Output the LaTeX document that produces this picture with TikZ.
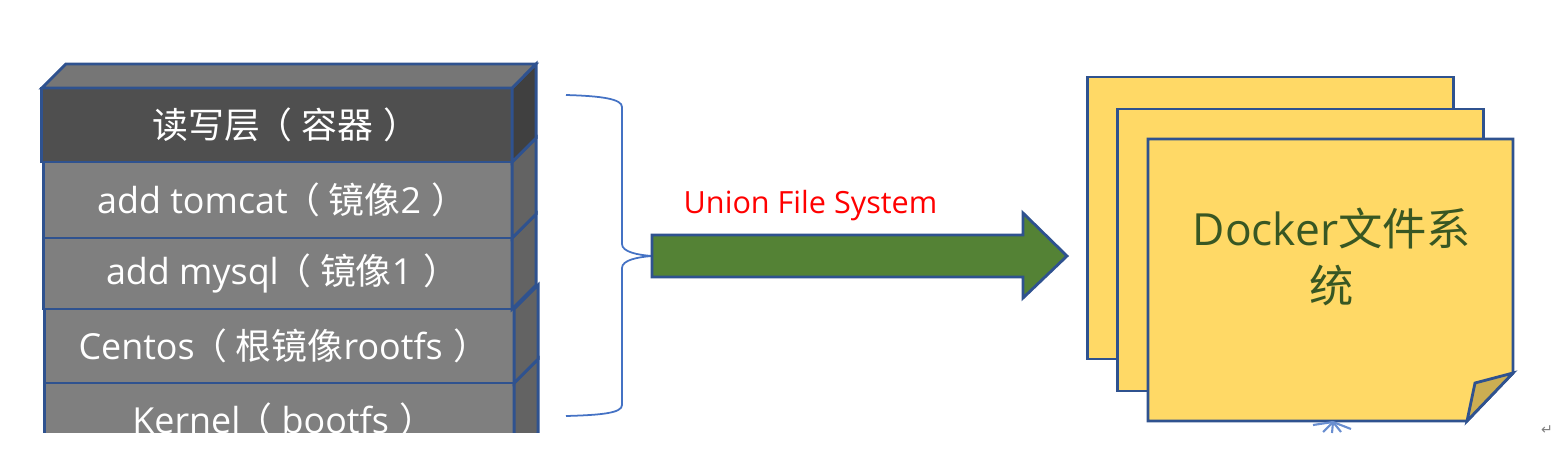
\documentclass[tikz,border=0pt]{standalone}
\usepackage{fontspec}
\setmainfont{Open Sans}
\newfontfamily\zhfont{Noto Sans CJK SC}
\newfontfamily\symbfont{DejaVu Sans}
\newcommand{\zh}[1]{{\zhfont #1}}
\newcommand{\lp}{\kern-0.1em\zh{（}\kern0.25em}
\newcommand{\rp}{\kern0.3em\zh{）}\kern-0.25em}
\definecolor{stackblue}{HTML}{2F528F}
\definecolor{braceblue}{HTML}{4472C4}
\definecolor{layergray}{HTML}{7F7F7F}
\definecolor{sidegray}{HTML}{636363}
\definecolor{topfront}{HTML}{4F4F4F}
\definecolor{topside}{HTML}{404040}
\definecolor{toptop}{HTML}{767676}
\definecolor{arrowgreen}{HTML}{548235}
\definecolor{notegold}{HTML}{FFD966}
\definecolor{foldgold}{HTML}{CCAE52}
\definecolor{dockergreen}{HTML}{385723}

\begin{document}
\begin{tikzpicture}[x=0.01cm,y=-0.01cm,
    layer/.style={draw=stackblue,line width=0.8pt,fill=layergray,text=white,
                  inner sep=0pt,outer sep=0pt,font=\fontsize{10.2}{12}\selectfont},
    sideface/.style={draw=stackblue,line width=0.8pt,fill=sidegray},
    note/.style={draw=stackblue,line width=0.8pt,fill=notegold,inner sep=0pt,outer sep=0pt},
    brace/.style={draw=braceblue,line width=0.5pt}]
    \useasboundingbox (0,0) rectangle (1560,454);
    % layer stack, bottom first
    \begin{scope}
    \clip (0,0) rectangle (560,432);
    \node[layer,minimum width=4.69cm,minimum height=0.74cm] (layer5) at (279.5,420) {Kernel\lp bootfs\rp};
    \filldraw[sideface] (layer5.north east) -- ++(24,-24) -- ++(0,74) -- (layer5.south east) -- cycle;
    \node[layer,minimum width=4.69cm,minimum height=0.74cm] (layer4) at (279.5,346) {Centos\lp\zh{根镜像}rootfs\rp};
    \filldraw[sideface] (layer4.north east) -- ++(24,-24) -- ++(0,74) -- (layer4.south east) -- cycle;
    \node[layer,minimum width=4.68cm,minimum height=0.71cm] (layer3) at (278,273.5) {add mysql\lp\zh{镜像}1\rp};
    \filldraw[sideface] (layer3.north east) -- ++(24,-24) -- ++(0,71) -- (layer3.south east) -- cycle;
    \node[layer,minimum width=4.68cm,minimum height=0.76cm] (layer2) at (278,200) {add tomcat\lp\zh{镜像}2\rp};
    \filldraw[sideface] (layer2.north east) -- ++(24,-24) -- ++(0,76) -- (layer2.south east) -- cycle;
    \node[layer,fill=topfront,minimum width=4.70cm,minimum height=0.74cm] (layer1) at (277,125) {\zh{读写层}\lp\zh{容器}\rp\kern-0.25em};
    \filldraw[sideface,fill=topside] (layer1.north east) -- ++(24,-24) -- ++(0,74) -- (layer1.south east) -- cycle;
    \filldraw[sideface,fill=toptop] (layer1.north west) -- ++(24,-24) -- ++(470,0) -- (layer1.north east) -- cycle;
    \end{scope}
    % brace and arrow
    \coordinate (bracetip) at (652,256);
    \draw[brace] (566,95) .. controls (602,96) and (622,99) .. (622,107)
        -- (622,244) .. controls (622,252) and (638,255) .. (bracetip)
        .. controls (638,257) and (622,260) .. (622,268)
        -- (622,405) .. controls (622,413) and (602,415) .. (566,416);
    \filldraw[draw=stackblue,line width=0.8pt,fill=arrowgreen,line join=miter]
        (bracetip |- 0,235) -- (1023,235) -- (1023,213) -- (1067,256)
        -- (1023,298) -- (1023,277) -- (bracetip |- 0,277) -- cycle;
    \node[text=red,inner sep=0pt,font=\fontsize{8.7}{10}\selectfont,anchor=base west] (ufs) at (683,213) {Union File System};
    % notes
    \node[note,minimum width=3.65cm,minimum height=2.82cm] (note1) at (1270.5,218) {};
    \node[note,minimum width=3.65cm,minimum height=2.82cm] (note2) at (1300.5,250) {};
    \filldraw[note] (1148,139) -- (1513,139) -- (1513,373) -- (1467,421) -- (1148,421) -- cycle;
    \filldraw[draw=stackblue,line width=0.8pt,fill=foldgold,line join=miter] (1513,373) -- (1475,383) -- (1467,421) -- cycle;
    \node[text=dockergreen,align=center,font=\fontsize{12.6}{16.2}\selectfont] (docker) at (1332,257) {Docker\zh{文件系}\\\zh{统}};
    \coordinate (handle) at (1333,422);
    \foreach \ex/\ey in {1313/425,1323/432,1332/433,1341/432,1351/429}
        \draw[braceblue!80,line width=0.6pt] (handle) -- (\ex,\ey);
    \node[text=gray,font=\symbfont\fontsize{4}{4}\selectfont] (parmark) at (1547,430) {↵};
\end{tikzpicture}
\end{document}
